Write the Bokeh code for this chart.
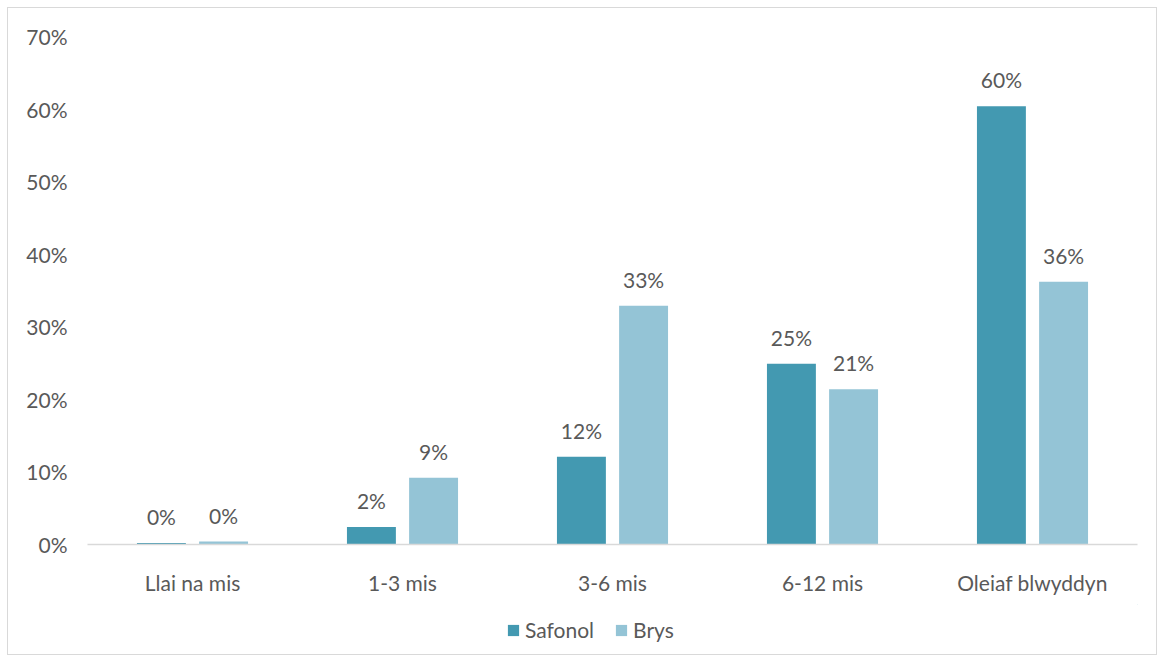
from bokeh.plotting import figure
from bokeh.layouts import column
from bokeh.models import ColumnDataSource, FactorRange, LabelSet, Legend, LegendItem, PrintfTickFormatter, FixedTicker
from bokeh.transform import dodge
from bokeh.core.properties import value
from bokeh.embed import file_html
from bokeh.resources import INLINE

categories = ["Llai na mis", "1-3 mis", "3-6 mis", "6-12 mis", "Oleiaf blwyddyn"]
series_names = ["Safonol", "Brys"]
safonol = [0.2, 2.4, 12.1, 24.9, 60.4]
brys = [0.4, 9.2, 32.9, 21.4, 36.2]
y_ticks = [0, 10, 20, 30, 40, 50, 60, 70]

FONT = "Lato"
FS = "21px"
TXT = "#595959"
C1 = "#4399b1"
C2 = "#94c4d6"

src = ColumnDataSource(dict(
    cat=categories,
    safonol=safonol,
    brys=brys,
    lab_s=[f"{v:.0f}%" for v in safonol],
    lab_b=[f"{v:.0f}%" for v in brys],
))

p = figure(x_range=FactorRange(*categories, range_padding=0), y_range=(0, 70),
           width=1148, height=596, output_backend="svg", toolbar_location=None,
           min_border_left=79, min_border_right=19, min_border_top=28, min_border_bottom=60)
p.outline_line_color = None
p.xgrid.grid_line_color = None
p.ygrid.grid_line_color = None

r1 = p.vbar(x=dodge("cat", -0.148, range=p.x_range), top="safonol", width=0.233, source=src,
            fill_color=C1, line_color=None)
r2 = p.vbar(x=dodge("cat", 0.148, range=p.x_range), top="brys", width=0.233, source=src,
            fill_color=C2, line_color=None)

for col, lab, off in (("safonol", "lab_s", -0.148), ("brys", "lab_b", 0.148)):
    ls = LabelSet(x=dodge("cat", off, range=p.x_range), y=col, text=lab, source=src,
                  text_align="center", text_baseline="bottom", y_offset=14,
                  text_font=value(FONT), text_font_size=FS, text_color=TXT)
    p.add_layout(ls)

p.yaxis.ticker = FixedTicker(ticks=y_ticks)
p.yaxis.formatter = PrintfTickFormatter(format="%d%%")
p.yaxis.axis_line_color = None
p.yaxis.major_tick_line_color = None
p.yaxis.minor_tick_line_color = None
p.yaxis.major_label_text_font = FONT
p.yaxis.major_label_text_font_size = FS
p.yaxis.major_label_text_color = TXT
p.yaxis.major_label_standoff = 14

p.xaxis.axis_line_color = "#d9d9d9"
p.xaxis.axis_line_width = 1.5
p.xaxis.major_tick_line_color = None
p.xaxis.minor_tick_line_color = None
p.xaxis.major_label_text_font = FONT
p.xaxis.major_label_text_font_size = FS
p.xaxis.major_label_text_color = TXT
p.xaxis.major_label_standoff = 19

# legend strip (swatch renderers sit outside the visible range)
pl = figure(width=1148, height=50, output_backend="svg", toolbar_location=None,
            x_range=(0, 1), y_range=(0, 1), min_border=0)
pl.axis.visible = False
pl.grid.visible = False
pl.outline_line_color = None
d1 = pl.vbar(x=[5], top=[5], bottom=[4], width=0.1, fill_color=C1, line_color=None)
d2 = pl.vbar(x=[5], top=[5], bottom=[4], width=0.1, fill_color=C2, line_color=None)
legend = Legend(items=[LegendItem(label=series_names[0], renderers=[d1]),
                       LegendItem(label=series_names[1], renderers=[d2])],
                orientation="horizontal", location=(419, 12),
                label_text_font=FONT, label_text_font_size=FS, label_text_color=TXT,
                glyph_width=14, glyph_height=14, spacing=20, label_standoff=5,
                border_line_color=None, background_fill_alpha=0, margin=0, padding=0)
pl.add_layout(legend, "center")

layout = column(p, pl, spacing=0)
layout.styles = {"border": "1px solid #d9d9d9", "margin-left": "7px", "margin-top": "7px"}

open("out.html", "w").write(file_html(layout, INLINE))
